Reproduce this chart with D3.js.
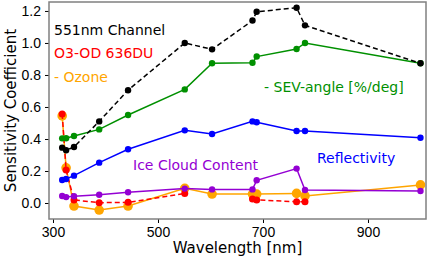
<!DOCTYPE html>
<html lang="en">
<head>
  <meta charset="UTF-8">
  <title>Sensitivity Coefficient vs Wavelength</title>
  <script src="https://d3js.org/d3.v7.min.js"></script>
  <style>
    body { margin: 0; background: #fff; }
    svg { font-family: "DejaVu Sans", sans-serif; }
    .tick text { font-size: 14px; fill: #000; }
    .tick line { stroke: #000; }
  </style>
</head>
<body>
  <svg width="429" height="259"></svg>
  <script>
    // wavelengths of the channels
    const wavelengths = [317.5, 325, 340, 388, 443, 551, 603, 680, 688, 764, 780, 1000];

    // sensitivity coefficients per parameter (null = not plotted)
    const channel551 = [0.346, 0.33, 0.35, 0.51, 0.705, 1.0, 0.96, 1.14, 1.195, 1.22, 1.11, 0.873];
    const sevAngle = [0.404, 0.405, 0.419, 0.46, 0.55, 0.71, 0.873, 0.876, 0.915, 0.962, 1.0, 0.873];
    const reflectivity = [0.144, 0.15, 0.171, 0.252, 0.336, 0.454, 0.431, 0.51, 0.505, 0.45, 0.45, 0.408];
    const iceCloud = [0.044, 0.037, 0.042, 0.052, 0.067, 0.09, 0.085, 0.085, 0.142, 0.215, 0.081, 0.075];
    const ozone = [0.544, 0.22, -0.019, -0.044, -0.019, 0.092, 0.056, 0.056, 0.056, 0.06, 0.044, 0.113];
    const o3od = [0.556, 0.206, 0.019, 0.002, 0.004, 0.06, null, 0.025, 0.019, 0.008, 0.008, null];

    const xTicks = [300, 500, 700, 900];
    const yTicks = [0.0, 0.2, 0.4, 0.6, 0.8, 1.0, 1.2];

    const margin = { top: 2, right: 3, bottom: 40, left: 49 };
    const width = 429 - margin.left - margin.right;
    const height = 259 - margin.top - margin.bottom;

    const svg = d3.select("svg");
    const g = svg.append("g").attr("transform", `translate(${margin.left},${margin.top})`);

    const x = d3.scaleLinear().domain([292.4, 1010.5]).range([0, width]);
    const y = d3.scaleLinear().domain([-0.1, 1.256]).range([height, 0]);

    g.append("g")
      .attr("transform", `translate(0,${height})`)
      .call(d3.axisBottom(x).tickValues(xTicks).tickSize(4).tickPadding(4))
      .call(a => a.select(".domain").remove());

    g.append("g")
      .call(d3.axisLeft(y).tickValues(yTicks).tickFormat(d3.format(".1f")).tickSize(4).tickPadding(4))
      .call(a => a.select(".domain").remove());

    const series = [
      { values: o3od, color: "#ff0000", dash: "5,3", r: 3.5 },
      { values: ozone, color: "#ffa500", dash: null, r: 4.8 },
      { values: iceCloud, color: "#9400d3", dash: null, r: 3.2 },
      { values: reflectivity, color: "#0000ff", dash: null, r: 3.2 },
      { values: sevAngle, color: "#009000", dash: null, r: 3.2 },
      { values: channel551, color: "#000000", dash: "5,3", r: 3.2 }
    ];
    // red is drawn on top of orange
    const drawOrder = [1, 0, 2, 3, 4, 5];

    const line = d3.line()
      .defined(d => d.v !== null)
      .x(d => x(d.w))
      .y(d => y(d.v));

    drawOrder.forEach(i => {
      const s = series[i];
      const pts = wavelengths.map((w, j) => ({ w: w, v: s.values[j] }));
      g.append("path")
        .datum(pts)
        .attr("fill", "none")
        .attr("stroke", s.color)
        .attr("stroke-width", 1.5)
        .attr("stroke-dasharray", s.dash)
        .attr("d", line);
      g.selectAll(null)
        .data(pts.filter(d => d.v !== null))
        .enter().append("circle")
        .attr("cx", d => x(d.w))
        .attr("cy", d => y(d.v))
        .attr("r", s.r)
        .attr("fill", s.color);
    });

    // frame
    g.append("rect")
      .attr("width", width)
      .attr("height", height)
      .attr("fill", "none")
      .attr("stroke", "#808080")
      .attr("stroke-width", 1.5);

    // annotations
    const labels = [
      { text: "551nm Channel", color: "#000000", x: 54, y: 35 },
      { text: "O3-OD 636DU", color: "#ff0000", x: 54, y: 58 },
      { text: "- Ozone", color: "#ffa500", x: 54, y: 82 },
      { text: "- SEV-angle [%/deg]", color: "#009000", x: 264, y: 92 },
      { text: "Reflectivity", color: "#0000ff", x: 317, y: 163 },
      { text: "Ice Cloud Content", color: "#9400d3", x: 133, y: 170 }
    ];
    svg.selectAll(".ann")
      .data(labels)
      .enter().append("text")
      .attr("class", "ann")
      .attr("x", d => d.x)
      .attr("y", d => d.y)
      .attr("fill", d => d.color)
      .style("font-size", "14px")
      .text(d => d.text);

    svg.append("text")
      .attr("x", margin.left + width / 2)
      .attr("y", 253)
      .attr("text-anchor", "middle")
      .style("font-size", "15px")
      .text("Wavelength [nm]");

    svg.append("text")
      .attr("transform", `translate(16,${margin.top + height / 2}) rotate(-90)`)
      .attr("text-anchor", "middle")
      .style("font-size", "15px")
      .text("Sensitivity Coefficient");
  </script>
</body>
</html>
